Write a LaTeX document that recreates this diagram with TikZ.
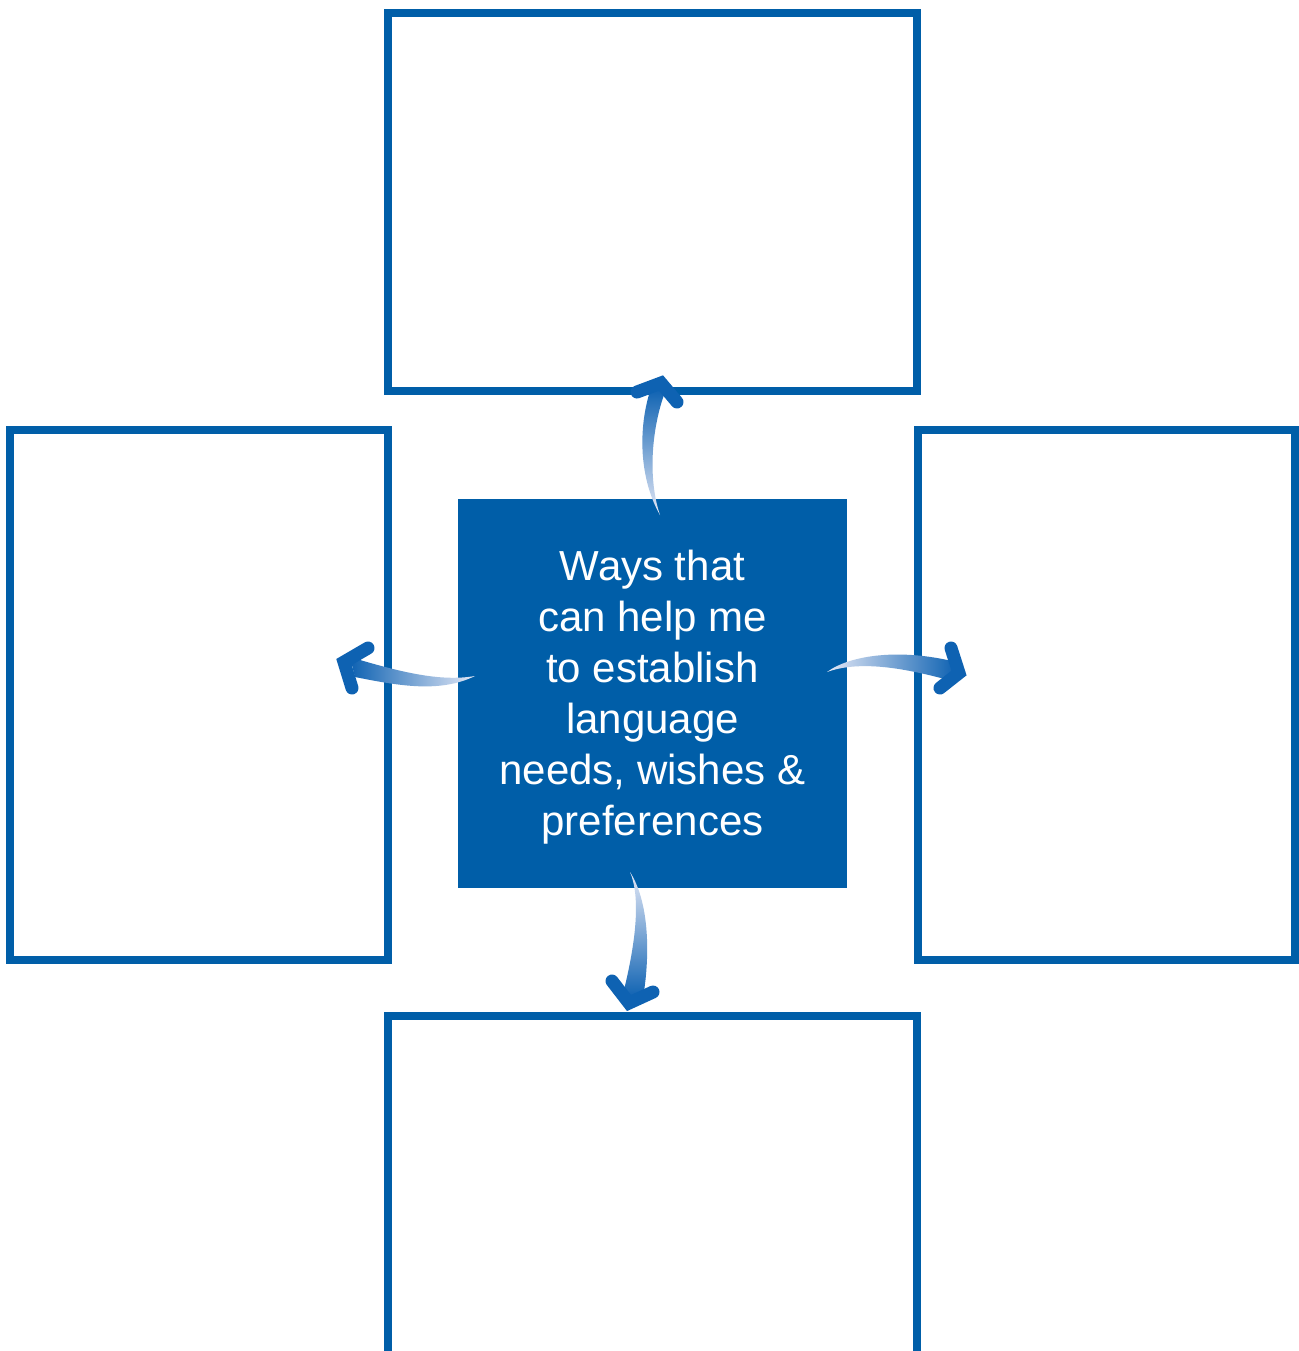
\documentclass[tikz,border=0pt]{standalone}
\usepackage{fontspec}
\setmainfont{Liberation Sans}
\usetikzlibrary{positioning}
\definecolor{bblue}{RGB}{0,94,168}
\definecolor{hblue}{RGB}{14,98,178}
\definecolor{tailc}{RGB}{228,232,246}
\tikzset{
	box/.style={draw=bblue,line width=3.8pt,fill=white,inner sep=0pt},
	hub/.style={fill=bblue,inner sep=0pt,minimum width=194.5pt,
		minimum height=194.5pt},
	hubtext/.style={text=white,inner sep=0pt,align=center,
		font=\fontsize{21pt}{25.5pt}\selectfont},
	headline/.style={draw=hblue,line width=6.5pt,line cap=round,line join=miter}
}
\begin{document}
\begin{tikzpicture}[x=0.5pt,y=-0.5pt]
	\clip (0,0) rectangle (1299,1351);
	\fill[white] (0,0) rectangle (1299,1351);
	\node[box,minimum width=264.5pt,minimum height=189pt] (top) at (652.5,202) {};
	\node[box,minimum width=189pt,minimum height=265pt] (left) at (199,695) {};
	\node[box,minimum width=188.5pt,minimum height=265pt] (right) at (1106.5,695) {};
	\node[box,minimum width=264.5pt,minimum height=189pt] (bottom) at (652.5,1205) {};
	\node[hub] (hub) at (652.5,693.5) {};
	\node[hubtext] (hubtext) at ([yshift=-2pt]hub.center) {Ways that\\can help me\\to establish\\language\\needs, wishes \&\\preferences};
	
	% tapered arrow bodies
	\shade[top color=hblue,bottom color=tailc]
	(660,515) .. controls (640,480) and (637,430) .. (651,388)
	-- (665,392) .. controls (651,430) and (648,480) .. (660,515) -- cycle;
	\shade[left color=tailc,right color=hblue]
	(827,672) .. controls (850,655) and (900,648) .. (956,662)
	-- (952,681) .. controls (905,668) and (860,660) .. (827,672) -- cycle;
	\shade[left color=hblue,right color=tailc]
	(475,676) .. controls (440,682) and (400,672) .. (350,657)
	-- (355,677) .. controls (400,686) and (440,693) .. (475,676) -- cycle;
	\shade[top color=tailc,bottom color=hblue]
	(630,872) .. controls (648,900) and (651,950) .. (643,998)
	-- (623,994) .. controls (634,950) and (642,900) .. (630,872) -- cycle;
	
	% heads
	\foreach \a/\b/\c in {{(637,392)}/{(661,383)}/{(677,402)},
		{(951,648)}/{(959,673)}/{(940,688)},
		{(368,648)}/{(344,662)}/{(352,688)},
		{(612,981)}/{(629,1003)}/{(653,992)}}
	{
		\draw[headline] \a -- \b -- \c;
	}
\end{tikzpicture}
\end{document}
